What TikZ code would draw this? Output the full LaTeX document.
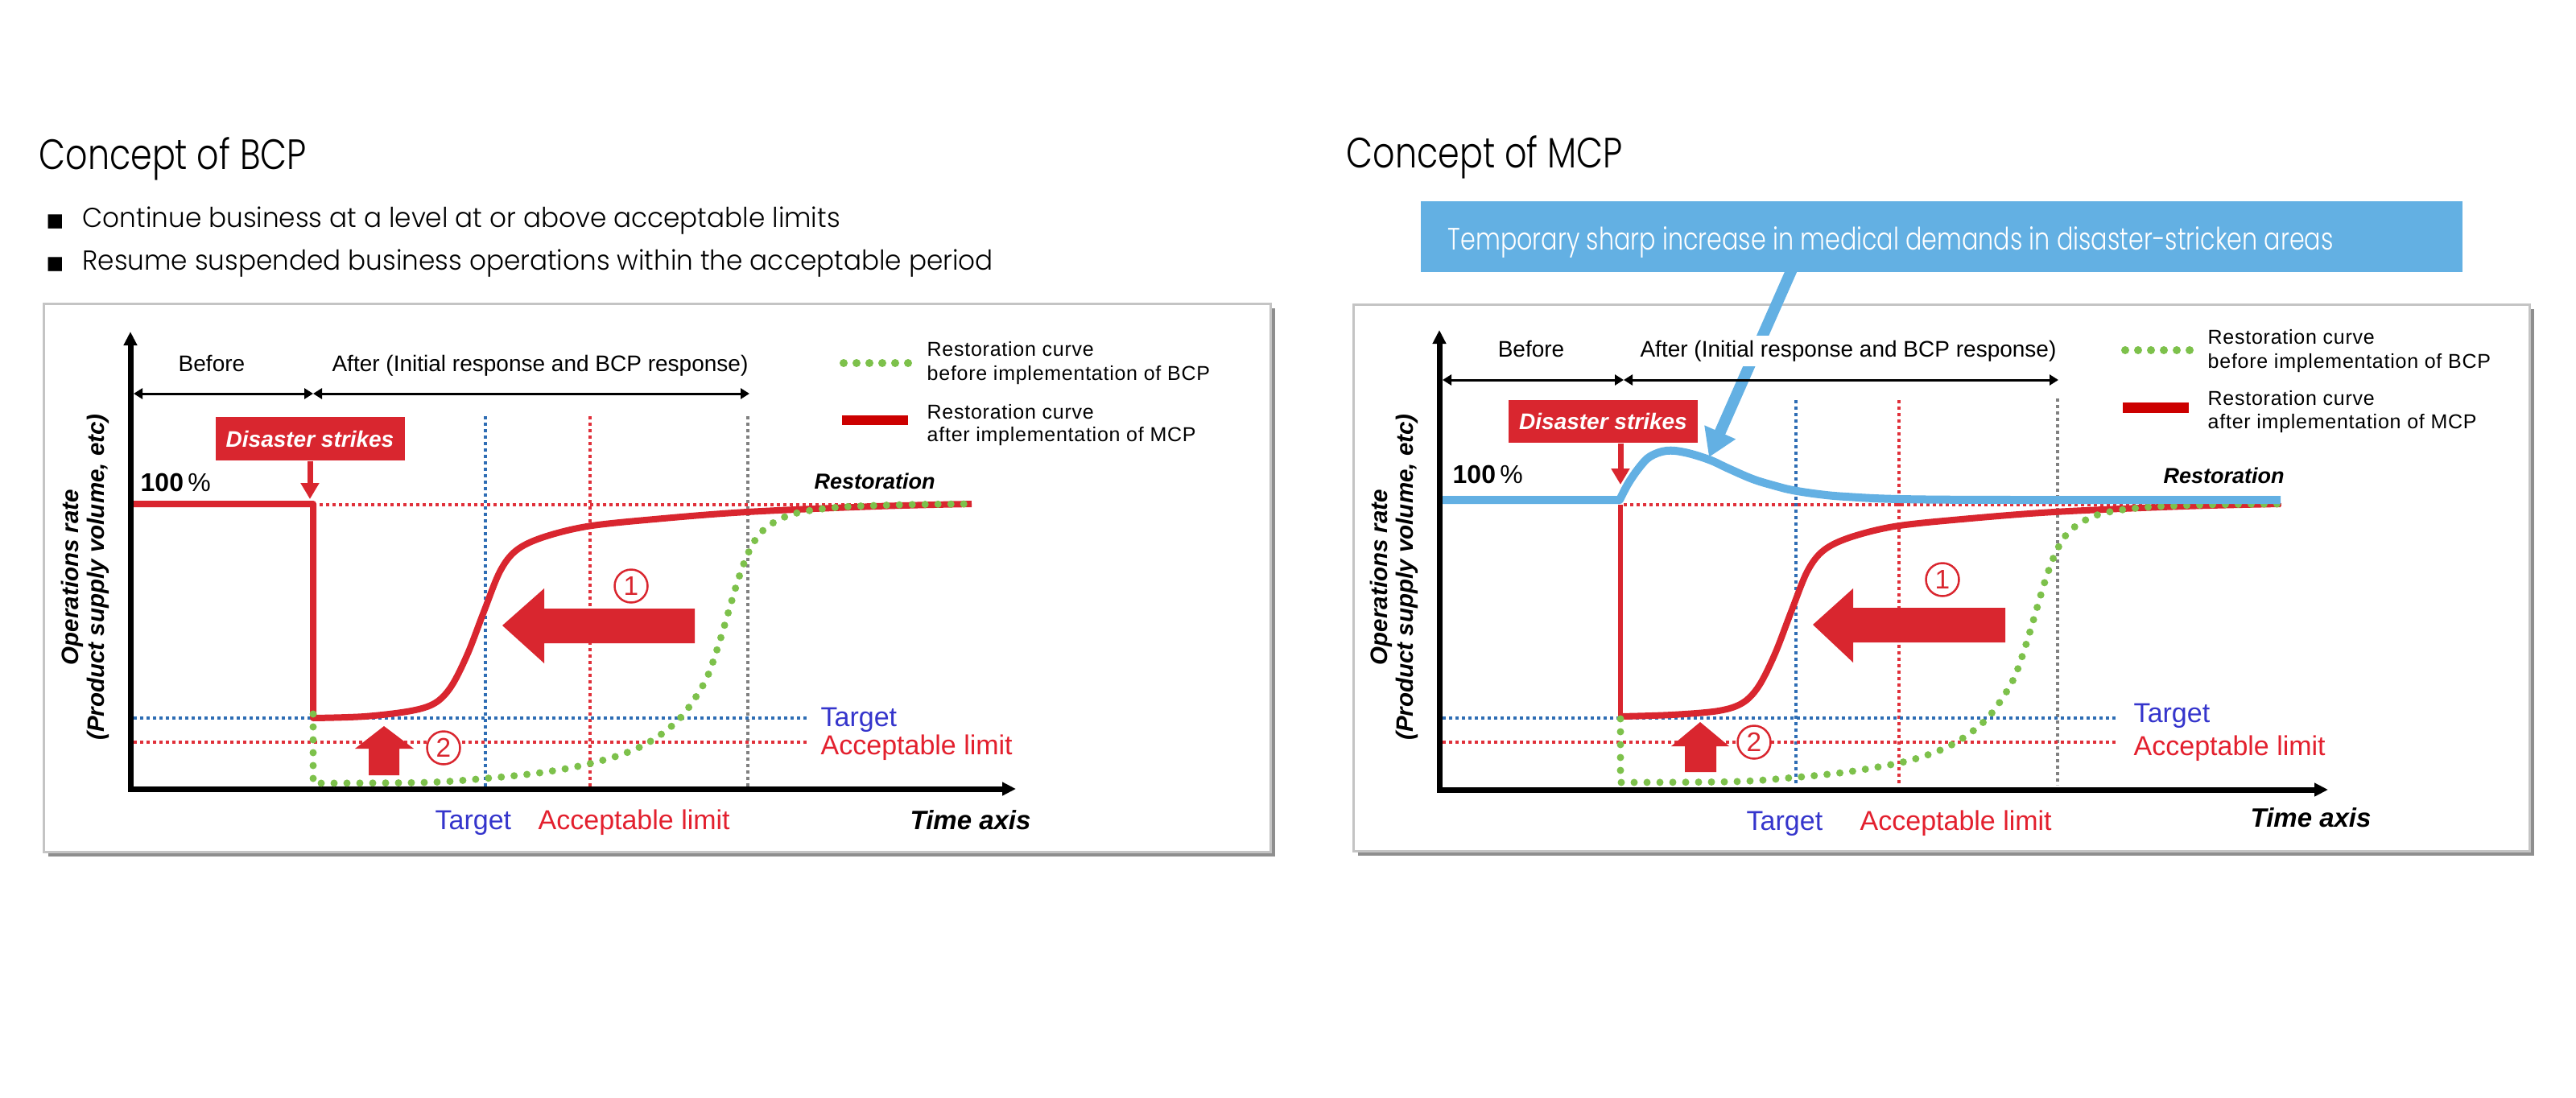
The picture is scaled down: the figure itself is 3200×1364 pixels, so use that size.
\documentclass[tikz,border=0pt]{standalone}
\usepackage{fontspec}
\usepackage{graphicx}
\setmainfont{Liberation Sans}
\IfFontExistsTF{Poppins Light}{\newfontfamily\fut{Poppins Light}}{\newfontfamily\fut{Poppins}}
\newfontfamily\dejavu{DejaVu Sans}
\usetikzlibrary{arrows.meta}
\definecolor{cred}{HTML}{D9262F}
\definecolor{lgred}{HTML}{CC0000}
\definecolor{cgreen}{HTML}{7DC14B}
\definecolor{cblue}{HTML}{63B0E3}
\definecolor{dblue}{HTML}{2E6DB4}
\definecolor{dred}{HTML}{E0303A}
\definecolor{dgray}{HTML}{808080}
\definecolor{tblue}{HTML}{3535CC}
\definecolor{tred}{HTML}{E3202E}
\definecolor{frameg}{HTML}{C4C4C4}
\definecolor{shadowg}{HTML}{8E8E8E}
\newcommand\fsz[1]{\fontsize{#1}{#1}\selectfont}
\newlength\bwa
\newcommand\bfac{1}
\AtBeginDocument{%
  \settowidth\bwa{\fut\fsz{9.7pt}Continue business at a level at or above acceptable limits}%
  \pgfmathsetmacro\bfac{94.1mm/\bwa}%
}
\tikzset{
  txt/.style={inner sep=0pt, anchor=base west},
  ctxt/.style={inner sep=0pt, anchor=base},
  dotln/.style={line width=0.45mm, dash pattern=on 0.4mm off 0.4mm},
  axisln/.style={line width=0.7mm, line join=miter, {Triangle[length=1.7mm,width=1.6mm]}-{Triangle[length=1.7mm,width=1.6mm]}},
  dblarr/.style={line width=0.3mm, {Triangle[length=1.1mm,width=1.3mm]}-{Triangle[length=1.1mm,width=1.3mm]}},
  redcurve/.style={cred, line width=0.8mm, line join=round},
  greendots/.style={cgreen, line width=0.9mm, line cap=round, dash pattern=on 0pt off 1.6mm},
  legdots/.style={cgreen, line width=1mm, line cap=round, dash pattern=on 0pt off 1.6mm},
  bluecurve/.style={cblue, line width=1mm, line join=round},
  dbox/.style={fill=cred, text=white, inner sep=0pt, minimum width=23.5mm, minimum height=5.4mm, font=\fsz{7.97pt}\bfseries\itshape},
  strikearr/.style={cred, line width=0.7mm, -{Triangle[length=2mm,width=2.2mm]}},
  numc/.style={circle, draw=cred, line width=0.25mm, fill=white, minimum size=4.1mm, inner sep=0pt, text=cred, font=\fsz{9.5pt}},
  chartfont/.style={font=\fsz{7.97pt}},
  legfont/.style={font=\fsz{7.11pt}\addfontfeatures{LetterSpace=3}},
  lblfont/.style={font=\fsz{9.67pt}},
  timefont/.style={font=\fsz{9.39pt}\bfseries\itshape},
  restfont/.style={font=\fsz{7.68pt}\bfseries\itshape},
  ylabel/.style={rotate=90, align=center, inner sep=0pt, font=\fontsize{8.4pt}{9.1pt}\selectfont\bfseries\itshape},
  frm/.style={draw=frameg, line width=0.3mm, fill=white},
  shd/.style={fill=shadowg},
}
\begin{document}
\begin{tikzpicture}[x=0.1mm,y=-0.1mm]
\useasboundingbox (0,0) rectangle (3200,1364);
\fill[white] (0,0) rectangle (3200,1364);

% ================= LEFT PANEL (BCP) =================
\node[txt, font=\fut\fsz{15pt}] (titleL) at (48,210) {\resizebox{33.2mm}{\height}{Concept of BCP}};
\node[txt, font=\dejavu\fsz{6.5pt}] (bul1) at (57,281) {■};
\node[txt, font=\fut\fsz{9.7pt}] (line1) at (102,282) {\scalebox{\bfac}[1]{Continue business at a level at or above acceptable limits}};
\node[txt, font=\dejavu\fsz{6.5pt}] (bul2) at (57,334) {■};
\node[txt, font=\fut\fsz{9.7pt}] (line2) at (102,335) {\scalebox{\bfac}[1]{Resume suspended business operations within the acceptable period}};

\fill[shd] (60,383) rectangle (1584,1064);
\draw[frm] (54,377) rectangle (1578,1058);

% dotted guide lines
\draw[dotln, dblue] (603,517) -- (603,977);
\draw[dotln, dred] (733,517) -- (733,977);
\draw[dotln, dgray] (929,517) -- (929,977);
\draw[dotln, dblue] (166,892) -- (1003,892);
\draw[dotln, dred] (166,922) -- (1003,922);
\draw[dotln, dred] (389,627) -- (1206,627);

% axes
\draw[axisln] (162,412) -- (162,980) -- (1262,980);

\begin{scope}[shift={(163,0)}]
\draw[redcurve] (3,626) -- (226,626) -- (226,892) -- plot[smooth, tension=0.55] coordinates {(226,892) (290,890) (348,883) (378,873) (398,852) (418,812) (438,760) (458,710) (478,684) (510,668) (566,654) (650,645) (765,636) (925,629) (1044,626)};
\draw[greendots] (226,887) -- (226,973) -- plot[smooth, tension=0.55] coordinates {(226,973) (366,972) (440,967) (500,961) (545,954) (580,946) (610,937) (636,926) (660,911) (682,892) (700,868) (716,840) (730,800) (742,760) (754,720) (766,688) (780,664) (800,648) (828,637) (880,630) (960,627) (1044,626)};
\end{scope}

% big arrows
\fill[cred] (624,777) -- (676,731) -- (676,756) -- (863,756) -- (863,799) -- (676,799) -- (676,824) -- cycle;
\fill[cred] (477,902) -- (514,930) -- (496,930) -- (496,963) -- (458,963) -- (458,930) -- (441,930) -- cycle;
\node[numc] (n1L) at (784,728) {1};
\node[numc] (n2L) at (551,929) {2};

% headers
\node[ctxt, chartfont] (beforeL) at (263,461) {Before};
\node[ctxt, chartfont] (afterL) at (671,461) {After (Initial response and BCP response)};
\coordinate (aL0) at (166,489);
\coordinate (aL1) at (389,489);
\coordinate (aL2) at (931,489);
\draw[dblarr] (aL0) -- (aL1);
\draw[dblarr] (aL1) -- (aL2);

% legend
\draw[legdots] (1048,451) -- (1129,451);
\fill[lgred] (1046,516) rectangle (1128,528);
\node[txt, legfont] (lgL1) at (1151,442) {Restoration curve};
\node[txt, legfont] (lgL2) at (1151,472) {before implementation of BCP};
\node[txt, legfont] (lgL3) at (1151,520) {Restoration curve};
\node[txt, legfont] (lgL4) at (1151,548) {after implementation of MCP};

% disaster
\node[dbox] (dsL) at (385,545) {Disaster strikes};
\coordinate (hitL) at (385,620);
\draw[strikearr] (dsL.south) -- (hitL);

\node[txt, font=\fsz{9.1pt}] (hundL) at (174,610) {\textbf{100}\,\%};
\node[txt, restfont] (restL) at (1011,607) {Restoration};
\node[txt, lblfont, text=tblue] (tgtRL) at (1019,902) {Target};
\node[txt, lblfont, text=tred] (accRL) at (1019,937) {Acceptable limit};
\node[txt, lblfont, text=tblue] (tgtBL) at (540,1030) {Target};
\node[txt, lblfont, text=tred] (accBL) at (668,1030) {Acceptable limit};
\node[txt, timefont] (timeL) at (1130,1030) {Time axis};
\node[ylabel] (ylabL) at (106,717) {Operations rate\\(Product supply volume, etc)};

% ================= RIGHT PANEL (MCP) =================
\node[txt, font=\fut\fsz{15pt}] (titleR) at (1672,209) {\resizebox{34.3mm}{\height}{Concept of MCP}};

\fill[shd] (1687,384) rectangle (3148,1063);
\draw[frm] (1681,378) rectangle (3142,1057);

\draw[dotln, dblue] (2231,497) -- (2231,975);
\draw[dotln, dred] (2359,497) -- (2359,975);
\draw[dotln, dgray] (2556,495) -- (2556,975);
\draw[dotln, dblue] (1792,892) -- (2629,892);
\draw[dotln, dred] (1792,922) -- (2629,922);
\draw[dotln, dred] (2017,627) -- (2833,627);

\draw[axisln] (1788,410) -- (1788,981) -- (2892,981);

\draw[cred, line width=0.6mm] (2013,627) -- (2013,891);
\begin{scope}[shift={(1787,0)}]
\draw[redcurve] plot[smooth, tension=0.55] coordinates {(226,890) (290,888) (348,883) (378,873) (398,852) (418,812) (438,760) (458,710) (478,684) (510,668) (566,654) (650,645) (765,636) (925,629) (1046,626)};
\draw[greendots] (226,893) -- (226,972) -- plot[smooth, tension=0.55] coordinates {(226,972) (366,971) (440,966) (500,960) (545,953) (580,946) (610,937) (636,926) (660,911) (682,892) (700,868) (716,840) (730,800) (742,760) (754,720) (766,688) (780,664) (800,648) (828,637) (880,630) (960,627) (1046,626)};
\end{scope}
\draw[bluecurve] (1792,621) -- (2012,621) -- plot[smooth, tension=0.6] coordinates {(2012,621) (2023,600) (2037,580) (2050,567) (2070,560) (2093,562) (2123,571) (2147,582) (2177,595) (2203,603) (2227,609) (2260,614) (2293,617) (2360,620) (2500,621) (2833,621)};

\fill[cred] (2252,776) -- (2302,731) -- (2302,755) -- (2491,755) -- (2491,798) -- (2302,798) -- (2302,823) -- cycle;
\fill[cred] (2112,897) -- (2148,927) -- (2132,927) -- (2132,959) -- (2093,959) -- (2093,927) -- (2076,927) -- cycle;
\node[numc] (n1R) at (2413,720) {1};
\node[numc] (n2R) at (2179,922) {2};

% callout pointer
\coordinate (pS) at (2228,330);
\coordinate (pT) at (2123,568);
\draw[cblue, line width=1.4mm, -{Triangle[length=3.4mm,width=4mm]}] (pS) -- (pT);
\node[fill=cblue, anchor=north west, inner sep=0pt, minimum width=129.4mm, minimum height=8.8mm] (callout) at (1764,249) {};
\node[txt, font=\fut\fsz{10.95pt}, text=white] (calltxt) at (1798,310) {\resizebox{110mm}{\height}{Temporary sharp increase in medical demands in disaster-stricken areas}};

\node[ctxt, chartfont] (beforeR) at (1902,443) {Before};
\node[ctxt, chartfont, fill=white, inner ysep=0.6mm, inner xsep=0.2mm] (afterR) at (2296,443) {After (Initial response and BCP response)};
\coordinate (aR0) at (1792,472);
\coordinate (aR1) at (2017,472);
\coordinate (aR2) at (2557,472);
\draw[dblarr] (aR0) -- (aR1);
\draw[dblarr] (aR1) -- (aR2);

\draw[legdots] (2640,435) -- (2721,435);
\fill[lgred] (2637,500) rectangle (2719,513);
\node[txt, legfont] (lgR1) at (2742,427) {Restoration curve};
\node[txt, legfont] (lgR2) at (2742,457) {before implementation of BCP};
\node[txt, legfont] (lgR3) at (2742,503) {Restoration curve};
\node[txt, legfont] (lgR4) at (2742,532) {after implementation of MCP};

\node[dbox, minimum height=5.3mm] (dsR) at (1991.5,523.5) {Disaster strikes};
\coordinate (hitR) at (2013,602);
\draw[strikearr] (dsR.south -| hitR) -- (hitR);

\node[txt, font=\fsz{9.1pt}] (hundR) at (1804,600) {\textbf{100}\,\%};
\node[txt, restfont] (restR) at (2687,600) {Restoration};
\node[txt, lblfont, text=tblue] (tgtRR) at (2650,897) {Target};
\node[txt, lblfont, text=tred] (accRR) at (2650,938) {Acceptable limit};
\node[txt, lblfont, text=tblue] (tgtBR) at (2169,1031) {Target};
\node[txt, lblfont, text=tred] (accBR) at (2310,1031) {Acceptable limit};
\node[txt, timefont] (timeR) at (2795,1027) {Time axis};
\node[ylabel] (ylabR) at (1732,717) {Operations rate\\(Product supply volume, etc)};
\end{tikzpicture}
\end{document}
